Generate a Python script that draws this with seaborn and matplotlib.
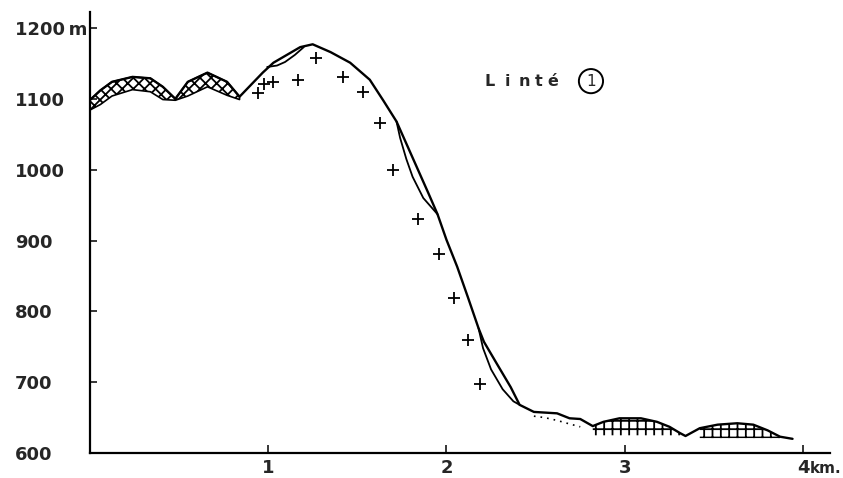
import pandas as pd
import seaborn as sns

import matplotlib
matplotlib.use("Agg")
import matplotlib.pyplot as plt

# Profile "Linté 1" - distance (km) vs altitude (m)
profile_km = [0.00, 0.06, 0.125, 0.24, 0.34, 0.41, 0.48, 0.55, 0.66, 0.77, 0.84,
              0.97, 1.03, 1.18, 1.25, 1.35, 1.46, 1.57, 1.645, 1.72, 1.78, 1.84,
              1.90, 1.95, 2.00, 2.06, 2.12, 2.18, 2.21, 2.28, 2.36,
              2.41, 2.49, 2.62, 2.69, 2.75, 2.82, 2.88, 2.97, 3.09, 3.18, 3.25,
              3.31, 3.34, 3.42, 3.52, 3.63, 3.72, 3.80, 3.87, 3.94]
profile_m = [1098, 1112, 1124, 1131, 1129, 1117, 1100, 1124, 1137, 1124, 1103,
             1137, 1151, 1173, 1177, 1166, 1151, 1127, 1098, 1068, 1034, 1000,
             966, 937, 901, 863, 820, 776, 757, 727, 693,
             668, 658, 656, 649, 648, 638, 644, 649, 649, 644, 637,
             628, 624, 635, 640, 642, 640, 632, 623, 620]

# inner lines of the three lenses
lens1_km = [0.995, 1.05, 1.095, 1.15, 1.20]
lens1_m = [1145, 1147, 1152, 1162, 1173]
lens2_km = [1.72, 1.74, 1.775, 1.81, 1.87, 1.95]
lens2_m = [1068, 1045, 1015, 990, 960, 937]
lens3_km = [2.18, 2.205, 2.25, 2.315, 2.375, 2.41]
lens3_m = [776, 748, 718, 690, 673, 668]

# lower edge of the hatched bumps
bump1_km = [0.00, 0.06, 0.125, 0.24, 0.34, 0.41, 0.48]
bump1_low = [1084, 1092, 1104, 1113, 1110, 1099, 1098]
bump2_km = [0.48, 0.55, 0.66, 0.77, 0.84]
bump2_low = [1098, 1104, 1117, 1105, 1099]
bump3_km = [2.82, 2.88, 2.97, 3.09, 3.18, 3.25, 3.31, 3.34]
bump3_low = 625
bump4_km = [3.42, 3.52, 3.63, 3.72, 3.80, 3.87]
bump4_low = 621

# dotted stretch
dots_km = [2.49, 2.55, 2.62, 2.69, 2.75]
dots_m = [652, 650, 646, 641, 637]

# crosses
cross_km = [0.945, 0.975, 1.03, 1.17, 1.27, 1.42, 1.53, 1.63, 1.70, 1.84,
            1.96, 2.04, 2.12, 2.19]
cross_m = [1108, 1121, 1124, 1127, 1158, 1131, 1110, 1066, 1000, 930,
           881, 819, 760, 697]

x_ticks = [1, 2, 3, 4]
y_ticks = [600, 700, 800, 900, 1000, 1100, 1200]
y_labels = ["600", "700", "800", "900", "1000", "1100", "1200\u2009m"]

sns.set_style("white")
plt.rcParams["font.family"] = ["DejaVu Sans"]
plt.rcParams["hatch.linewidth"] = 1.3

fig = plt.figure(figsize=(8.43, 4.78), dpi=100)
ax = fig.add_axes([89.7 / 843, 25 / 478, (830 - 89.7) / 843, (453 - 12) / 478])

prof = pd.DataFrame({"km": profile_km, "m": profile_m})
sns.lineplot(data=prof, x="km", y="m", color="black", linewidth=1.7, ax=ax)
for lk, lm in [(lens1_km, lens1_m), (lens2_km, lens2_m), (lens3_km, lens3_m)]:
    sns.lineplot(x=lk, y=lm, color="black", linewidth=1.3, ax=ax)
sns.lineplot(x=dots_km, y=dots_m, color="black", linewidth=1.2,
             linestyle=(0, (1, 3)), ax=ax)

# hatched bumps
top = dict(zip(profile_km, profile_m))
ax.fill_between(bump1_km, bump1_low, [top[k] for k in bump1_km],
                facecolor="none", edgecolor="black", hatch="xxx", linewidth=1.2)
ax.fill_between(bump2_km, bump2_low, [top[k] for k in bump2_km],
                facecolor="none", edgecolor="black", hatch="xxx", linewidth=1.2)
ax.fill_between(bump3_km, bump3_low, [top[k] for k in bump3_km],
                facecolor="none", edgecolor="black", hatch="++", linewidth=0)
ax.fill_between(bump4_km, bump4_low, [top[k] for k in bump4_km],
                facecolor="none", edgecolor="black", hatch="++", linewidth=0)

sns.scatterplot(x=cross_km, y=cross_m, marker="+", s=70, color="black",
                linewidth=1.3, ax=ax)

ax.set_xlim(0, 4.15)
ax.set_ylim(600, 1222.6)
ax.set_xticks(x_ticks)
ax.set_xticklabels([str(t) for t in x_ticks], fontsize=13, fontweight="bold")
ax.set_yticks(y_ticks)
ax.set_yticklabels(y_labels, fontsize=13, fontweight="bold", ha="left")
ax.tick_params(axis="y", direction="in", length=5, width=1.3, pad=53.8, left=True)
ax.tick_params(axis="x", direction="in", length=6, width=1.3, pad=4, bottom=True)
ax.set_xlabel("")
ax.set_ylabel("")
for side in ["top", "right"]:
    ax.spines[side].set_visible(False)
for side in ["left", "bottom"]:
    ax.spines[side].set_linewidth(1.6)
    ax.spines[side].set_color("black")

# unit after the last x tick
ax.text(4.034, 589, "km.", fontsize=11, fontweight="bold", ha="left", va="top")

# title letters, spaced out
for x, ch in zip([2.24, 2.34, 2.435, 2.515, 2.595], "Linté"):
    ax.text(x, 1125, ch, fontsize=11.5, fontweight="bold", ha="center", va="center")
ax.text(2.81, 1125, "1", fontsize=11, ha="center", va="center",
        bbox=dict(boxstyle="circle,pad=0.3", facecolor="none",
                  edgecolor="black", linewidth=1.4))

fig.savefig("out.png", dpi=100)
